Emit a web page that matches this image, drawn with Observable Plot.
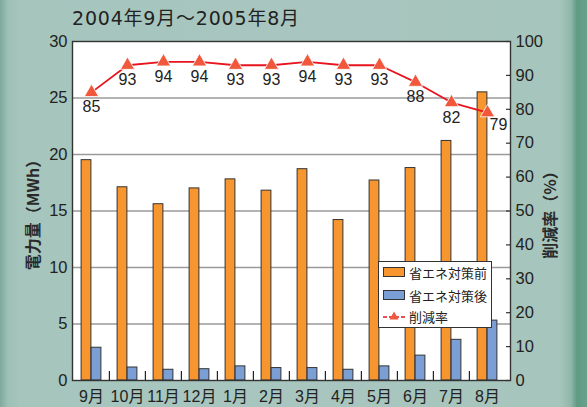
<!DOCTYPE html>
<html><head><meta charset="utf-8">
<script src="https://cdn.jsdelivr.net/npm/d3@7"></script>
<script src="https://cdn.jsdelivr.net/npm/@observablehq/plot@0.6"></script>
<style>
body{margin:0;}
#wrap{position:relative;width:587px;height:407px;overflow:hidden;
 background:linear-gradient(to right,#7fa99d 0px,#9ec0b7 8px,#a5c5bd 20px,#a8c6bf 300px,#a6c5bc 560px,#8eb7a9 571px,#5e9a84 577px,#6aa18d 587px);
 font-family:"Liberation Sans","Noto Sans CJK JP",sans-serif;color:#222;}
#title{position:absolute;left:72px;top:9px;font-family:"DejaVu Sans","Noto Sans CJK JP",sans-serif;font-size:19px;line-height:19px;letter-spacing:0.8px;color:#222;white-space:nowrap;}
#legend{position:absolute;left:378px;top:261px;width:112px;height:65px;background:#fff;border:1.3px solid #333;font-family:"Noto Sans CJK JP",sans-serif;font-size:13px;color:#222;}
.row{position:absolute;left:4px;height:14px;display:flex;align-items:center;white-space:nowrap;}
.sw{width:20px;height:8px;border:1px solid #333;margin-right:4px;}
svg{position:absolute;left:0;top:0;}
</style></head><body><div id="wrap"></div>
<script>
const titleText = "2004年9月～2005年8月";
const months = ["9月","10月","11月","12月","1月","2月","3月","4月","5月","6月","7月","8月"];
const before = [19.5, 17.1, 15.6, 17.0, 17.8, 16.8, 18.7, 14.2, 17.7, 18.8, 21.2, 25.5];
const after  = [2.9, 1.15, 0.95, 1.0, 1.25, 1.1, 1.1, 0.95, 1.25, 2.2, 3.6, 5.3];
const rate   = [85, 93, 94, 94, 93, 93, 94, 93, 93, 88, 82, 79];
const leftTicks = [0, 5, 10, 15, 20, 25, 30];
const rightTicks = [0, 10, 20, 30, 40, 50, 60, 70, 80, 90, 100];
const seriesNames = ["省エネ対策前", "省エネ対策後", "削減率"];
const leftLabel = "電力量（MWh）";
const rightLabel = "削減率（%）";

const yMax = 30, rMax = 100;
const toY = r => r * yMax / rMax;
const rows = months.map((m, i) => ({month: m, before: before[i], after: after[i], rate: rate[i], rateY: toY(rate[i])}));

const W = 587, H = 407, mL = 72, mR = 77, mT = 41, mB = 27;
const xRange = [72, 506.5];
const bw = (xRange[1] - xRange[0]) / months.length;
const barW = 10;
const frameW = W - mL - mR, frameH = H - mT - mB;
const tickLen = 9 * yMax / frameH;
const C_BEFORE = "#f7962f", C_AFTER = "#7b9fd5", C_LINE = "#e8141e", C_TRI = "#f0573b";
const font = '"Liberation Sans","Noto Sans CJK JP",sans-serif';
const cjk = '"Noto Sans CJK JP",sans-serif';

const chart = Plot.plot({
  width: W, height: H, marginLeft: mL, marginRight: mR, marginTop: mT, marginBottom: mB,
  style: {background: "transparent", fontFamily: font, color: "#222", overflow: "visible"},
  x: {type: "band", domain: months, range: xRange, padding: 0},
  y: {domain: [0, yMax]},
  marks: [
    Plot.frame({fill: "white"}),
    Plot.gridY(leftTicks.slice(1, -1), {stroke: "#9a9a9a", strokeOpacity: 1, strokeWidth: 1.3}),
    Plot.barY(rows, {x: "month", y: "before", fill: C_BEFORE, stroke: "#333", strokeWidth: 1, insetLeft: bw/2 - barW, insetRight: bw/2}),
    Plot.barY(rows, {x: "month", y: "after", fill: C_AFTER, stroke: "#333", strokeWidth: 1, insetLeft: bw/2, insetRight: bw/2 - barW}),
    Plot.ruleX(months.slice(1), {x: d => d, y1: 0, y2: tickLen, dx: -bw/2, stroke: "#222", strokeWidth: 1.2}),
    Plot.tickY(rightTicks.map(toY), {y: d => d, insetLeft: frameW - 4, stroke: "#333", strokeWidth: 1.2}),
    Plot.line(rows, {x: "month", y: "rateY", stroke: C_LINE, strokeWidth: 1.8}),
    Plot.dot(rows, {x: "month", y: "rateY", symbol: "triangle", r: 5.3, fill: C_TRI, stroke: "white", strokeWidth: 0.8}),
    Plot.text(rows.slice(0, -1), {x: "month", y: "rateY", text: d => String(d.rate), dy: 15, fontSize: 16, fill: "#222"}),
    Plot.text(rows.slice(-1), {x: "month", y: "rateY", text: d => String(d.rate), dx: 11, dy: 12, fontSize: 16, fill: "#222"}),
    Plot.frame({stroke: "#333", strokeWidth: 1.4}),
    Plot.axisY(leftTicks, {anchor: "left", tickSize: 0, tickPadding: 5, fontSize: 16.5, label: null}),
    Plot.axisY(rightTicks.map(toY), {anchor: "right", tickSize: 0, tickPadding: 5, fontSize: 16.5, tickFormat: d => String(Math.round(d * rMax / yMax)), label: null}),
    Plot.axisX({anchor: "bottom", tickSize: 0, tickPadding: 10, fontSize: 16, label: null}),
    Plot.text([leftLabel], {frameAnchor: "left", dx: -39, rotate: -90, textAnchor: "middle", lineAnchor: "middle", fontSize: 16, fontWeight: "bold", fontFamily: cjk, fill: "#2a2a2a"}),
    Plot.text([rightLabel], {frameAnchor: "right", dx: 40, rotate: -90, textAnchor: "middle", lineAnchor: "middle", fontSize: 16, fontWeight: "bold", fontFamily: cjk, fill: "#2a2a2a"})
  ]
});

const wrap = document.getElementById("wrap");
wrap.appendChild(chart);
const t = document.createElement("div"); t.id = "title"; t.textContent = titleText; wrap.appendChild(t);

const lg = document.createElement("div"); lg.id = "legend";
const sw = [C_BEFORE, C_AFTER, null];
const tops = [3, 26, 47];
seriesNames.forEach((n, i) => {
  const r = document.createElement("div"); r.className = "row"; r.style.top = tops[i] + "px";
  if (sw[i]) {
    const s = document.createElement("div"); s.className = "sw"; s.style.background = sw[i]; r.appendChild(s);
  } else {
    const s = document.createElementNS("http://www.w3.org/2000/svg", "svg");
    s.setAttribute("width", 22); s.setAttribute("height", 12); s.style.position = "static"; s.style.marginRight = "4px";
    s.innerHTML = `<line x1="0" y1="7" x2="22" y2="7" stroke="${C_LINE}" stroke-width="1.6" stroke-dasharray="4,2"/><path d="M11,1.5 L15.5,9.5 L6.5,9.5 Z" fill="${C_TRI}"/>`;
    r.appendChild(s);
  }
  const tx = document.createElement("span"); tx.textContent = n; r.appendChild(tx);
  lg.appendChild(r);
});
wrap.appendChild(lg);
</script>
</body></html>
